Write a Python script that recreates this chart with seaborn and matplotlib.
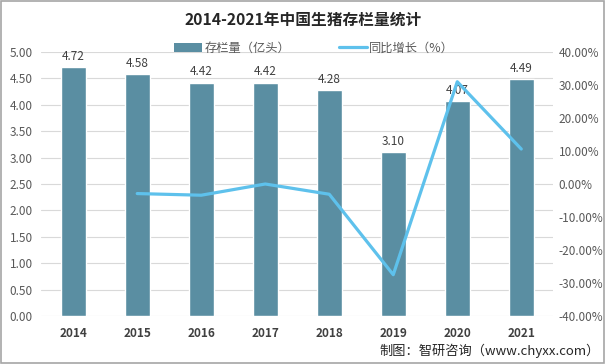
import numpy as np
import pandas as pd
import matplotlib
matplotlib.use("Agg")
import matplotlib.pyplot as plt
import seaborn as sns
from matplotlib.patches import Patch
from matplotlib.lines import Line2D

# ------------------- data -------------------
years = ["2014", "2015", "2016", "2017", "2018", "2019", "2020", "2021"]
stock = [4.72, 4.58, 4.42, 4.42, 4.28, 3.10, 4.07, 4.49]          # 亿头
growth = [np.nan, -2.9, -3.4, 0.0, -3.1, -27.5, 31.0, 10.6]        # %

bar_color = "#5A8EA2"
line_color = "#5EC1EC"

sns.set_theme(style="white")
plt.rcParams["font.family"] = ["Noto Sans CJK SC", "DejaVu Sans"]

df = pd.DataFrame({"year": years, "stock": stock, "growth": growth})
df["pos"] = np.arange(len(df))

fig = plt.figure(figsize=(6.06, 3.64), dpi=100)
ax = fig.add_axes([0.068, 0.132, 0.845, 0.725])

# bars
sns.barplot(data=df, x="year", y="stock", color=bar_color, width=0.39,
            saturation=1, ax=ax, zorder=2)
ax.set_ylim(0, 5)
ax.set_xlim(-0.5, len(years) - 0.5)
ax.set_yticks(np.arange(0, 5.01, 0.5))
ax.set_yticklabels([f"{v:.2f}" for v in np.arange(0, 5.01, 0.5)],
                   fontsize=8.5, color="#595959")
ax.set_xticklabels(years, fontsize=8.5, fontweight="bold", color="#404040")
ax.set_xlabel("")
ax.set_ylabel("")
ax.grid(axis="y", color="#D9D9D9", linewidth=0.8, zorder=0)
ax.tick_params(axis="y", length=0, pad=6)
ax.tick_params(axis="x", length=0, pad=8)
for s in ax.spines.values():
    s.set_visible(False)

for i, v in enumerate(stock):
    ax.text(i, v + 0.08, f"{v:.2f}", ha="center", va="bottom",
            fontsize=8.5, color="#404040")

# growth line on the right axis
ax2 = ax.twinx()
sns.lineplot(data=df.dropna(), x="pos", y="growth", color=line_color,
             linewidth=2.3, ax=ax2, zorder=3)
ax2.set_ylim(-40, 40)
ax2.set_yticks(np.arange(-40, 41, 10))
ax2.set_yticklabels([f"{v:.2f}%" for v in np.arange(-40, 41, 10)],
                    fontsize=8.5, color="#595959")
ax2.set_ylabel("")
ax2.tick_params(axis="y", length=0, pad=4)
for s in ax2.spines.values():
    s.set_visible(False)

# title and legend
fig.text(0.5, 0.945, "2014-2021年中国生猪存栏量统计", ha="center", va="center",
         fontsize=11.3, fontweight="bold", color="#262626")
handles = [Patch(facecolor=bar_color, edgecolor="none"),
           Line2D([0], [0], color=line_color, linewidth=2.3)]
fig.legend(handles, ["存栏量（亿头）", "同比增长（%）"], loc="center",
           bbox_to_anchor=(0.518, 0.868), ncol=2, frameon=False,
           fontsize=8.8, handlelength=2.3, columnspacing=4.0,
           handletextpad=0.2, labelcolor="#595959")

# source note
fig.text(0.99, 0.035, "制图：智研咨询（www.chyxx.com）", ha="right", va="center",
         fontsize=9.5, color="#262626")

# outer border
fig.patches.append(plt.Rectangle((0.002, 0.003), 0.995, 0.993, transform=fig.transFigure,
                                 fill=False, edgecolor="#A6A6A6", linewidth=1.2))

fig.savefig("out.png", dpi=100)
